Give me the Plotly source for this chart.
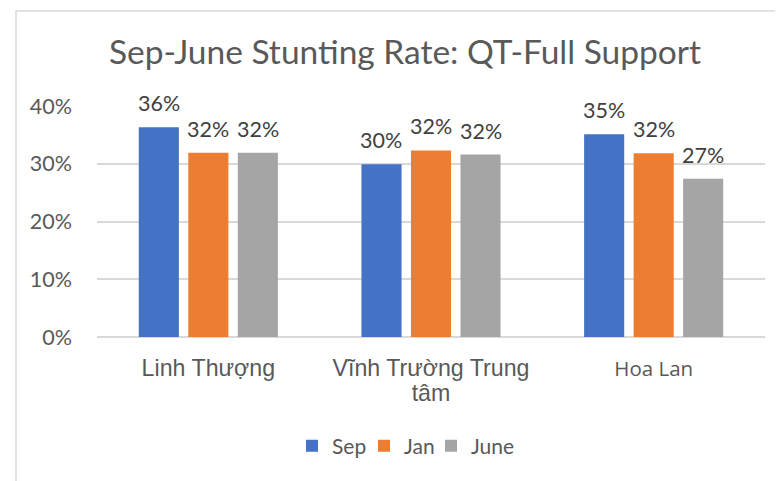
import plotly.graph_objects as go

categories = ["Linh Thượng", "Vĩnh Trường Trung tâm", "Hoa Lan"]
series_names = ["Sep", "Jan", "June"]
sep_values = [0.363, 0.299, 0.351]
jan_values = [0.319, 0.323, 0.318]
june_values = [0.319, 0.316, 0.274]
series_values = [sep_values, jan_values, june_values]
colors = ["#4472C4", "#ED7D31", "#A5A5A5"]
tick_vals = [0, 0.1, 0.2, 0.3, 0.4]
tick_text = ["0%", "10%", "20%", "30%", "40%"]
cat_tick_text = [
    "<span style='font-size:23.2px'>Linh Thượng</span>",
    "<span style='font-size:23.2px'>Vĩnh Trường Trung</span><br><span style='font-size:23.2px'>tâm</span>",
    "<span style='font-family:Open Sans;font-size:20.5px'>Hoa Lan</span>",
]

# page has an 8px body margin: design in reference pixels, shifted by 8
OFF = 8
W, H = 783 - OFF, 481 - OFF
ML, MT = 97 - OFF, 106 - OFF
PW, PH = 668, 231
MR, MB = W - ML - PW, H - MT - PH
BARGAP = 0.333

def px_x(p):
    return (p - OFF - ML) / PW

def px_y(p):
    return (MT + PH - (p - OFF)) / PH

fig = go.Figure()
legend_refs = ["legend", "legend2", "legend3"]
for name, vals, col, lg in zip(series_names, series_values, colors, legend_refs):
    fig.add_trace(go.Bar(name=name, x=categories, y=vals, legend=lg,
                         marker=dict(color=col, line=dict(width=0))))

# data labels
slot = (1 - BARGAP) / len(series_names)
annotations = []
for i, vals in enumerate(series_values):
    off = (i - (len(series_names) - 1) / 2) * slot
    for j, v in enumerate(vals):
        annotations.append(dict(
            x=j + off, y=v, xref="x", yref="y", text=f"{v:.0%}", showarrow=False,
            yanchor="middle", yshift=24,
            font=dict(family="Lato", size=21.5, color="#404040")))

legend_square_left = [309, 381, 448]
SYM_OFF = 17
legend_common = dict(orientation="h", xanchor="left", yanchor="middle", y=px_y(446),
                     font=dict(family="Lato", size=21, color="#595959"), itemwidth=30,
                     bgcolor="rgba(0,0,0,0)", borderwidth=0)

fig.update_layout(
    width=W, height=H,
    margin=dict(l=ML, r=MR, t=MT, b=MB, pad=0),
    paper_bgcolor="white", plot_bgcolor="white",
    barmode="group", bargap=BARGAP, bargroupgap=0.19,
    title=dict(text="Sep-June Stunting Rate: QT-Full Support", x=(405 - OFF) / W, xanchor="center",
               y=1 - (52 - OFF) / H, yanchor="middle",
               font=dict(family="Lato", size=33.5, color="#595959")),
    font=dict(family="Lato", color="#595959"),
    showlegend=True,
    legend=dict(x=px_x(legend_square_left[0] - SYM_OFF), **legend_common),
    legend2=dict(x=px_x(legend_square_left[1] - SYM_OFF), **legend_common),
    legend3=dict(x=px_x(legend_square_left[2] - SYM_OFF), **legend_common),
    annotations=annotations,
    shapes=[dict(type="rect", xref="paper", yref="paper",
                 x0=px_x(16), x1=px_x(783 + 30), y0=px_y(481 + 30), y1=px_y(11),
                 line=dict(color="#d9d9d9", width=1.5), fillcolor="rgba(0,0,0,0)", layer="below")],
)
fig.update_xaxes(
    tickmode="array", tickvals=categories, ticktext=cat_tick_text,
    tickfont=dict(family="Liberation Sans", size=19, color="#595959"),
    showgrid=False, showline=False, ticks="", ticklabelstandoff=19,
)
fig.update_yaxes(
    range=[0, 0.4], tickvals=tick_vals, ticktext=tick_text,
    tickfont=dict(family="Lato", size=21.5, color="#595959"),
    showgrid=True, gridcolor="#d9d9d9", gridwidth=1.5,
    zeroline=True, zerolinecolor="#d9d9d9", zerolinewidth=1.5,
    showline=False, ticks="", ticklabelstandoff=24,
)
fig.write_html("out.html")
